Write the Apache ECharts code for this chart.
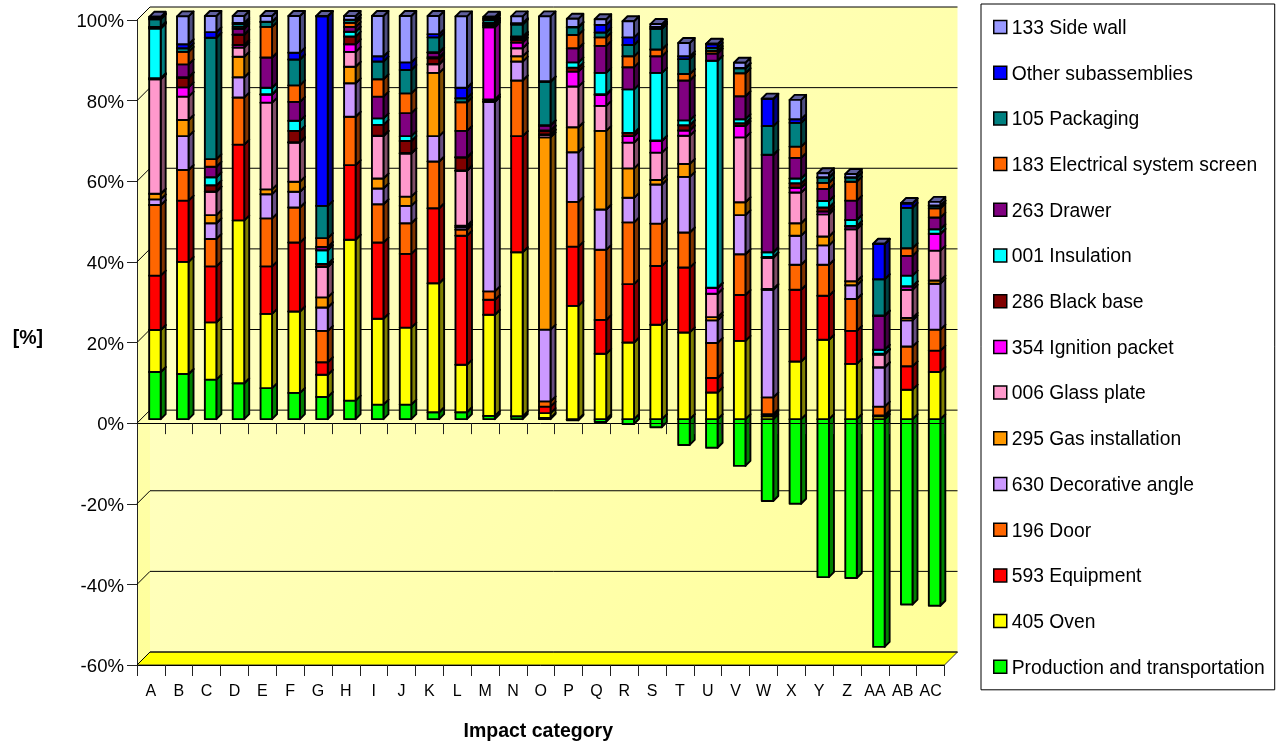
<!DOCTYPE html>
<html><head><meta charset="utf-8">
<style>html,body{margin:0;padding:0;background:#fff}#c{width:1277px;height:742px}</style>
<script src="https://cdn.jsdelivr.net/npm/echarts@6/dist/echarts.min.js"></script>
</head><body><div id="c"></div>
<script>
const categories=['A','B','C','D','E','F','G','H','I','J','K','L','M','N','O','P','Q','R','S','T','U','V','W','X','Y','Z','AA','AB','AC'];
const yTicks=[-60,-40,-20,0,20,40,60,80,100];
const prod=[11.7,11.2,9.8,8.9,7.7,6.5,5.5,4.6,3.6,3.6,1.7,1.7,.8,.7,.3,-.3,-.7,-1.2,-2,-6.4,-7.1,-11.6,-20.3,-21,-39.2,-39.4,-56.5,-46,-46.3];
const oven=[10.4,27.8,14.2,40.4,18.4,20.2,5.5,39.9,21.3,19.1,32,11.8,25.1,40.7,1.2,28.1,16.2,19,23.4,21.5,6.6,19.4,.7,14.3,19.7,13.7,.7,7.3,11.7];
const equipment=[13.5,15.2,13.9,18.8,11.8,17.1,3.1,18.5,18.9,18.3,18.6,32,3.7,28.8,1.6,14.7,8.4,14.5,14.6,16.1,3.6,11.4,.5,17.8,10.9,8.2,.2,5.8,5.3];
const door=[17.5,7.6,6.8,11.7,11.9,8.7,7.8,12,9.5,7.6,11.6,1.5,2.1,13.8,1.3,11.1,17.4,15.3,10.5,8.7,8.7,10.1,4.2,6.2,7.7,7.9,2.2,4.9,5.2];
const decorative=[1.4,8.4,3.9,5,6,3.9,5.8,8.3,3.9,4.3,6.3,.6,47,4.7,17.8,12.3,10,6.1,9.7,13.8,5.6,9.7,26.7,7.2,4.8,3.4,9.7,6.5,11.4];
const gas=[1.4,4,2,5.1,1.2,2.5,2.5,4.1,2.5,2.3,15.7,.4,.1,1.3,47.7,6.2,19.5,7.3,1.1,3.2,.8,3.2,.2,3.1,2.2,1,.1,.6,.8];
const glass=[28.4,5.8,5.8,2.3,21.5,9.7,7.5,3.7,10.5,10.7,2.1,13.6,.5,2,.6,10.1,6.2,6.4,6.8,7,5.8,16.1,7.7,7.6,5.5,12.9,3.1,7,7.4];
const ignition=[.1,2.3,.1,.6,2,.1,.1,1.9,.1,.1,.1,.1,17.9,1.4,.1,3.7,2.7,1.6,2.9,1.3,1.4,2.8,.1,1.2,.7,.7,.1,.8,4.1];
const blackBase=[.2,2.4,1.5,2.5,.1,2.8,.7,1.9,2.7,3,1.4,3.2,.4,.7,.9,1,.2,.8,.1,1.3,.1,.7,.1,1.1,1,.1,.1,.1,.1];
const insulation=[12.3,.1,2,.1,1.6,2.5,3.4,1.2,1.6,1.2,.3,.1,.1,.1,.1,1.3,5.3,10.8,16.8,1.2,56.3,1,1.2,1.2,1.6,1.5,1,2.6,1.1];
const drawer=[.2,3.2,2.6,1.4,7.5,4.7,.8,1.2,5.4,5.7,1.1,6.5,.4,.4,1.2,3.5,6.7,5.5,4.1,9.9,1.8,5.7,24.1,5.1,3,4.8,8.4,4.9,2.9];
const electrical=[.2,3.1,1.9,.5,7.6,4.1,2.2,1,4.3,4.9,.1,7.1,.2,.3,.1,3.3,2.1,2.7,1.7,1.6,.6,5.7,.1,2.8,1.5,4.7,.1,1.9,2.3];
const packaging=[1.9,.9,30.1,.7,1.2,6.4,8,.7,4.4,5.8,3.7,1,.7,3,10.8,1.9,1.2,2.8,5.1,3.7,.8,1.2,7.1,5.9,1.3,1,9,10,.6];
const other=[.2,1,1.4,.3,.1,1.7,47,.1,1.3,1.9,.8,2.6,.4,.3,.1,.1,1.9,1.9,.5,.7,.9,.1,6.7,.9,.1,.1,8.7,1.1,.1];
const sideWall=[.4,6.9,4,1.7,1.4,9.1,.1,.9,10,11.5,4.5,17.7,.4,1.7,16.1,2,1.4,4,.7,3.3,.1,1.3,.1,4.8,1,.8,.1,.1,.9];

const names=['Production and transportation','405 Oven','593 Equipment','196 Door','630 Decorative angle','295 Gas installation','006 Glass plate','354 Ignition packet','286 Black base','001 Insulation','263 Drawer','183 Electrical system screen','105 Packaging','Other subassemblies','133 Side wall'];
const colors=['#00FF00','#FFFF00','#FF0000','#FF6600','#CC99FF','#FF9900','#FF99CC','#FF00FF','#800000','#00FFFF','#800080','#FF6600','#008080','#0000FF','#9999FF'];
const values=[prod,oven,equipment,door,decorative,gas,glass,ignition,blackBase,insulation,drawer,electrical,packaging,other,sideWall];

const WALL=13, BAR_OFF=4, BAR_W=11.5, BAR_D=5;
const shade=(hex,f)=>{const n=parseInt(hex.slice(1),16);return 'rgb('+[(n>>16)&255,(n>>8)&255,n&255].map(v=>Math.round(v*f)).join(',')+')';};

// stack the values (positives upward, negatives downward)
const posTop=categories.map(()=>0);
const barSeries=values.map((arr,s)=>{
  const data=[];
  arr.forEach((v,i)=>{
    if(v>0){data.push([i,posTop[i],posTop[i]+v]);posTop[i]+=v;}
    else if(v<0){data.push([i,0,v]);}
  });
  return {
    type:'custom',name:names[s],coordinateSystem:'cartesian2d',xAxisIndex:0,yAxisIndex:0,z:3+s*0.01,zlevel:0,
    itemStyle:{color:colors[s]},encode:{x:0,y:[1,2]},silent:true,animation:false,clip:false,data,
    renderItem(params,api){
      const a=api.coord([api.value(0),api.value(1)]);
      const b=api.coord([api.value(0),api.value(2)]);
      const yLow=Math.max(a[1],b[1])-BAR_OFF, yHigh=Math.min(a[1],b[1])-BAR_OFF;
      const x0=a[0]+BAR_OFF-BAR_W/2, x1=x0+BAR_W;
      const stroke={stroke:'#000',lineWidth:1.9,lineJoin:'round'};
      const poly=(pts,fill)=>({type:'polygon',shape:{points:pts},style:Object.assign({fill},stroke)});
      return {type:'group',children:[
        poly([[x1,yHigh],[x1+BAR_D,yHigh-BAR_D],[x1+BAR_D,yLow-BAR_D],[x1,yLow]],shade(colors[s],0.5)),
        poly([[x0,yHigh],[x1,yHigh],[x1+BAR_D,yHigh-BAR_D],[x0+BAR_D,yHigh-BAR_D]],shade(colors[s],0.62)),
        poly([[x0,yHigh],[x1,yHigh],[x1,yLow],[x0,yLow]],colors[s])
      ]};
    }
  };
});

const wallSeries={
  type:'custom',coordinateSystem:'cartesian2d',xAxisIndex:0,yAxisIndex:0,z:1,silent:true,animation:false,clip:false,
  data:[[0,0]],encode:{x:0,y:1},
  renderItem(params){
    const c=params.coordSys,L=c.x,T=c.y,R=c.x+c.width,B=c.y+c.height,d=WALL;
    return {type:'group',children:[
      {type:'polygon',shape:{points:[[L+d,T-d],[R+d,T-d],[R+d,B-d],[L+d,B-d]]},
       style:{fill:new echarts.graphic.LinearGradient(0,0,1,1,[{offset:0,color:'#FFFFCC'},{offset:1,color:'#FFFF99'}])}},
      {type:'polygon',shape:{points:[[L,T],[L+d,T-d],[L+d,B-d],[L,B]]},
       style:{fill:new echarts.graphic.LinearGradient(0,0,0,1,[{offset:0,color:'#FFFFCC'},{offset:1,color:'#FFFF99'}])}},
      {type:'polygon',shape:{points:[[L,B],[R,B],[R+d,B-d],[L+d,B-d]]},style:{fill:'#FFFF00',stroke:'#333',lineWidth:1}}
    ]};
  }
};
const gridSeries={
  type:'custom',coordinateSystem:'cartesian2d',xAxisIndex:0,yAxisIndex:0,z:2,silent:true,animation:false,clip:false,
  data:yTicks.map(t=>[0,t]),encode:{x:0,y:1},
  renderItem(params,api){
    const c=params.coordSys,y=api.coord([0,api.value(1)])[1],L=c.x,R=c.x+c.width,d=WALL;
    return {type:'polyline',shape:{points:[[L,y],[L+d,y-d],[R+d,y-d]]},style:{fill:'none',stroke:'#000',lineWidth:1}};
  }
};
const font='"Liberation Sans",Arial,sans-serif';
const chart=echarts.init(document.getElementById('c'),null,{renderer:'canvas'});
chart.setOption({
  animation:false,
  textStyle:{fontFamily:font},
  grid:{left:137,top:20,width:807.5,height:645,outerBoundsMode:'none'},
  xAxis:[{type:'category',data:categories,position:'bottom',boundaryGap:true,
      axisLine:{onZero:false,lineStyle:{color:'#000',width:1}},
      axisTick:{show:true,length:11,alignWithLabel:false,lineStyle:{color:'#222'}},
      axisLabel:{color:'#000',fontSize:16,margin:19,fontFamily:font,interval:0},
      name:'Impact category',nameLocation:'middle',nameGap:57,
      nameTextStyle:{color:'#000',fontSize:19.5,fontWeight:'bold',fontFamily:font,padding:[0,5,0,0]},z:1},
    {type:'category',data:categories,position:'bottom',boundaryGap:true,
      axisLine:{onZero:true,lineStyle:{color:'#000',width:1}},
      axisTick:{show:true,length:11,lineStyle:{color:'#222'}},
      axisLabel:{show:false},z:10}],
  yAxis:{type:'value',min:-60,max:100,interval:20,splitLine:{show:false},
      axisLine:{show:true,onZero:false,lineStyle:{color:'#222'}},
      axisTick:{show:true,length:10,lineStyle:{color:'#222'}},
      axisLabel:{color:'#000',fontSize:18.6,margin:13,formatter:'{value}%',fontFamily:font,verticalAlign:'top',lineHeight:4},
      name:'[%]',nameLocation:'middle',nameGap:94,nameRotate:0,
      nameTextStyle:{color:'#000',fontSize:19.5,fontWeight:'bold',fontFamily:font,verticalAlign:'bottom',lineHeight:8},z:1},
  legend:{orient:'vertical',left:981,top:4,icon:'rect',itemWidth:13,itemHeight:13,itemGap:23.7,
      padding:[12,10,12,12],borderColor:'#000',borderWidth:1,
      data:names.slice().reverse(),selectedMode:false,
      itemStyle:{borderColor:'#000',borderWidth:1.5},
      formatter:'{t|{name}}',
      textStyle:{color:'#000',fontSize:19.3,lineHeight:20,fontFamily:font,
        rich:{t:{color:'#000',fontSize:19.3,fontFamily:font,lineHeight:16,padding:[3,0,0,0]}}}},
  series:[wallSeries,gridSeries].concat(barSeries)
});
</script></body></html>
